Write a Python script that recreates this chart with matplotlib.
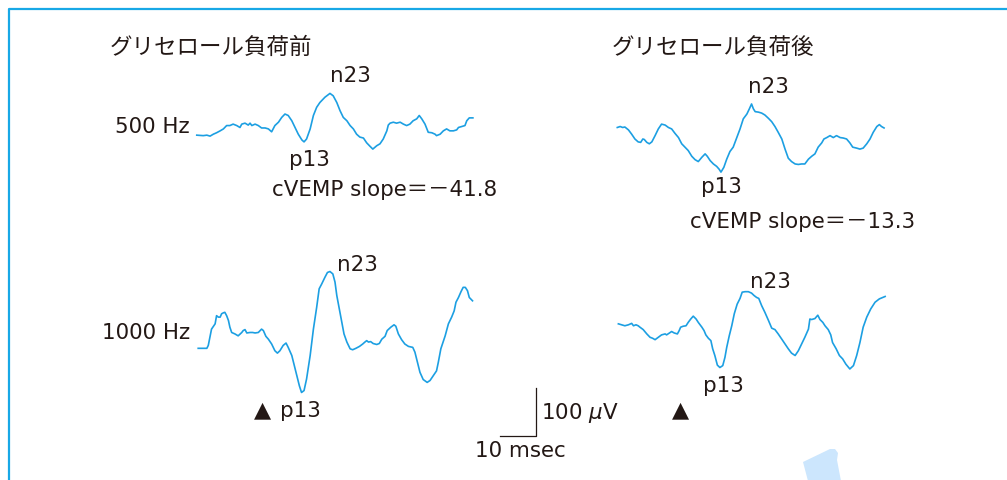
import matplotlib
matplotlib.use("Agg")
import matplotlib.pyplot as plt
from matplotlib.patches import Polygon

# ---- averaged cVEMP responses: time (ms, stimulus at 0) and amplitude (µV) ----
t_500_pre = [-18.4, -16.6, -15.6, -14.7, -13.8, -12.9, -11.9, -11.0, -10.1, -9.2, -8.3, -7.3,
             -6.4, -5.9, -5.0, -4.1, -3.6, -3.1, -2.2, -1.3, -0.4, 0.6, 1.5, 2.4, 3.3, 4.3,
             5.2, 6.1, 7.0, 8.0, 8.9, 9.8, 10.8, 11.4, 12.1, 13.1, 14.0, 14.9, 15.8, 17.2,
             18.6, 19.5, 20.5, 21.4, 22.3, 23.3, 24.2, 25.1, 26.0, 26.9, 27.9, 28.8, 29.7,
             30.5, 31.6, 32.5, 33.4, 34.4, 34.8, 35.3, 36.2, 37.1, 38.1, 39.0, 39.9, 40.8,
             41.7, 42.7, 43.4, 44.1, 45.0, 45.9, 46.9, 47.8, 48.2, 49.2, 50.1, 51.0, 51.9,
             52.9, 53.8, 54.3, 55.2, 56.1, 56.6, 57.3, 58.3]
a_500_pre = [-17, -18, -17, -19, -15, -12, -8, -4, 3, 3, 6, 3,
             -1, 6, 8, 4, 8, 3, 6, 3, -2, -2, -4, -10, 3, 10,
             20, 27, 24, 13, -1, -15, -27, -31, -25, -4, 24, 41, 51, 62,
             70, 65, 51, 34, 20, 13, 3, -4, -15, -21, -23, -33, -40,
             -46, -39, -35, -25, -8, 4, 8, 10, 8, 10, 6, 3, 6,
             13, 17, 24, 17, 6, -11, -12, -15, -18, -15, -8, -4, -8,
             -8, -6, -1, 1, 3, 13, 19, 19]

t_500_post = [-17.7, -16.9, -16.2, -15.6, -14.6, -13.7, -12.8, -11.9, -11.2, -10.6, -10.2, -9.5,
              -8.8, -8.1, -7.2, -6.3, -5.4, -4.4, -3.5, -2.6, -1.7, -0.7, 0.2, 1.1, 2.0, 3.0,
              3.9, 4.8, 5.8, 6.7, 7.3, 8.1, 9.0, 9.9, 10.6, 11.1, 11.9, 12.7, 13.6, 14.5,
              15.5, 16.4, 17.3, 18.3, 19.0, 19.6, 20.1, 20.6, 21.5, 22.4, 23.3, 24.3, 25.2,
              26.1, 27.0, 28.0, 28.9, 29.8, 30.7, 31.7, 32.6, 33.5, 34.4, 35.4, 36.3, 37.2,
              38.1, 39.1, 39.7, 40.5, 41.4, 42.3, 43.2, 44.2, 45.1, 46.0, 46.9, 47.7, 48.8,
              49.7, 50.6, 51.6, 52.5, 53.4, 54.4, 55.1, 55.7, 56.4]
a_500_post = [-1, 1, -1, 0, -6, -15, -25, -31, -32, -25, -26, -32,
              -35, -31, -18, -4, 6, 4, -1, -4, -13, -22, -35, -42, -49, -61,
              -68, -72, -63, -56, -61, -70, -77, -82, -88, -94, -84, -67, -51, -42,
              -22, -4, 17, 27, 38, 48, 38, 32, 31, 29, 25, 18, 11,
              1, -11, -25, -46, -65, -72, -77, -78, -77, -77, -67, -61, -56,
              -42, -33, -25, -22, -18, -22, -18, -22, -23, -25, -33, -42, -44,
              -46, -44, -35, -25, -11, 1, 5, 1, -2]

t_1000_pre = [-18.0, -16.6, -15.6, -15.2, -14.3, -13.3, -12.9, -12.4, -11.9, -11.5, -11.0, -10.6,
              -10.1, -9.6, -9.2, -8.7, -7.8, -6.9, -5.9, -5.5, -5.0, -4.5, -3.6, -2.9, -2.2,
              -1.3, -0.4, 0.1, 0.8, 1.5, 2.4, 3.3, 4.0, 4.7, 5.6, 6.4, 7.0, 8.0, 8.7, 9.4,
              10.1, 10.7, 11.4, 12.1, 13.1, 14.0, 14.9, 15.6, 16.3, 17.2, 17.9, 18.6, 19.4,
              20.0, 20.5, 21.2, 21.9, 22.5, 23.3, 24.2, 24.9, 25.8, 26.8, 27.7, 28.3, 28.8,
              29.3, 29.9, 30.6, 31.6, 32.3, 33.0, 33.9, 34.5, 35.5, 36.4, 36.9, 37.6, 38.5,
              39.4, 40.4, 41.6, 42.2, 42.9, 43.6, 44.5, 45.6, 46.4, 47.3, 48.2, 48.7, 49.4,
              50.6, 51.5, 52.4, 53.1, 53.6, 54.3, 55.0, 55.6, 56.2, 56.8, 57.3, 58.2]
a_1000_pre = [-34, -34, -34, -28, 6, 17, 34, 31, 31, 38, 40, 41,
              34, 24, 10, -1, -4, -8, -1, 3, 5, -2, -1, -1, -2,
              -1, 6, 3, -9, -15, -25, -39, -44, -39, -28, -23, -32, -49, -70, -91,
              -112, -126, -122, -98, -49, 6, 51, 90, 100, 114, 124, 126, 121,
              104, 76, 48, 20, -4, -21, -35, -37, -34, -30, -25, -21, -18,
              -21, -20, -24, -26, -24, -15, -9, 3, 10, 15, 12, -4, -16,
              -25, -30, -32, -42, -63, -84, -99, -105, -101, -91, -81, -63, -35,
              -8, 17, 31, 44, 62, 72, 84, 93, 93, 86, 72, 65]

t_1000_post = [-17.4, -16.5, -15.6, -14.6, -13.7, -13.2, -12.5, -11.9, -11.4, -10.5, -9.5, -8.6,
               -7.9, -7.2, -6.3, -5.4, -4.4, -4.0, -3.2, -2.6, -1.9, -1.0, -0.5, -0.1, 0.6,
               1.4, 2.0, 2.7, 3.4, 4.2, 4.8, 5.8, 6.4, 6.9, 7.6, 8.3, 8.8, 9.4, 10.1, 10.8,
               11.6, 12.2, 12.7, 13.4, 14.1, 14.8, 15.6, 16.4, 17.0, 17.8, 18.7, 19.6, 20.3,
               21.0, 21.6, 22.4, 23.3, 24.3, 25.2, 26.1, 27.0, 28.0, 28.9, 29.8, 30.7, 31.7,
               32.6, 33.5, 34.4, 35.4, 35.8, 36.3, 37.2, 38.0, 38.6, 39.4, 40.0, 40.9, 41.6,
               42.1, 43.1, 44.0, 44.9, 45.8, 46.9, 47.9, 48.8, 49.7, 50.6, 51.6, 52.7, 53.9,
               55.1, 56.7]
a_1000_post = [17, 15, 13, 15, 18, 13, 15, 13, 10, 5, -4, -11,
               -13, -16, -11, -6, -4, -6, -2, 1, -2, -4, 3, 10, 12,
               13, 20, 27, 33, 27, 20, 10, 3, -6, -13, -18, -35, -49, -69, -74,
               -70, -53, -32, -8, 13, 38, 58, 70, 83, 84, 84, 81, 76,
               72, 70, 55, 41, 24, 8, 5, -4, -15, -25, -35, -44, -49,
               -39, -25, -11, 6, 27, 26, 28, 35, 26, 20, 13, 5, -6,
               -22, -35, -49, -56, -67, -77, -70, -49, -22, 10, 31, 48, 62,
               69, 74]

# ---- text ----
titles = ["グリセロール負荷前", "グリセロール負荷後"]
freq_labels = ["500 Hz", "1000 Hz"]
slope_labels = ["cVEMP slope＝－41.8", "cVEMP slope＝－13.3"]
scale_ms, scale_uv = 10, 100

# ---- layout (pixels) ----
W, H = 1007, 481
PX_PER_MS = 3.6
PX_PER_UV = 0.48
col_stim_x = [263, 681]      # stimulus onset per column
row_base_y = [128, 333]      # zero line per row

TRACE = "#1c9fe2"
FRAME = "#18a8e6"
INK = "#231815"
FONTS = ["DejaVu Sans", "Noto Sans CJK JP"]

fig = plt.figure(figsize=(W / 100, H / 100), dpi=100)
bg = fig.add_axes([0, 0, 1, 1])
bg.set_xlim(0, W)
bg.set_ylim(H, 0)
bg.axis("off")


def trace_axes(sx, by):
    """Axes in ms / µV units placed so that t=0 sits at sx and 0 µV at by."""
    L, R, T, B = sx - 100, sx + 320, by - 110, by + 110
    ax = fig.add_axes([L / W, 1 - B / H, (R - L) / W, (B - T) / H])
    ax.set_xlim((L - sx) / PX_PER_MS, (R - sx) / PX_PER_MS)
    ax.set_ylim((by - B) / PX_PER_UV, (by - T) / PX_PER_UV)
    ax.axis("off")
    ax.patch.set_alpha(0)
    return ax


series = [
    (0, 0, t_500_pre, a_500_pre),
    (1, 0, t_500_post, a_500_post),
    (0, 1, t_1000_pre, a_1000_pre),
    (1, 1, t_1000_post, a_1000_post),
]
axes = {}
for col, row, t, a in series:
    ax = trace_axes(col_stim_x[col], row_base_y[row])
    ax.plot(t, a, color=TRACE, lw=1.2, solid_joinstyle="round", clip_on=False)
    axes[(col, row)] = ax

# scale bar, drawn in the lower-left trace's ms / µV units
sb = axes[(0, 1)]
sb_t0, sb_a0 = 65.8, -216.7
sb.plot([sb_t0, sb_t0 + scale_ms, sb_t0 + scale_ms],
        [sb_a0, sb_a0, sb_a0 + scale_uv], color=INK, lw=0.9, clip_on=False)

# frame
bg.plot([9, 9, W + 5], [H + 5, 9.8, 9.8], color=FRAME, lw=1.6, clip_on=False,
        solid_capstyle="butt")

# pale blue tab at the bottom edge
bg.add_patch(Polygon([(803, 463), (830, 450), (835, 450), (838, 454), (837, 461),
                      (841, 482), (808, 482)], closed=True, color="#cce6fd", lw=0))

fs = 15.4
kw = dict(color=INK, family=FONTS)
bg.text(110, 47, titles[0], fontsize=16.2, va="center", ha="left", **kw)
bg.text(612, 47, titles[1], fontsize=16.2, va="center", ha="left", **kw)

bg.text(190, 127, freq_labels[0], fontsize=fs, va="center", ha="right", **kw)
bg.text(190, 333, freq_labels[1], fontsize=fs, va="center", ha="right", **kw)

bg.text(350, 76, "n23", fontsize=fs, va="center", ha="center", **kw)
bg.text(309, 160, "p13", fontsize=fs, va="center", ha="center", **kw)
bg.text(272, 190, slope_labels[0], fontsize=fs, va="center", ha="left", **kw)

bg.text(768, 87, "n23", fontsize=fs, va="center", ha="center", **kw)
bg.text(721, 187, "p13", fontsize=fs, va="center", ha="center", **kw)
bg.text(690, 222, slope_labels[1], fontsize=fs, va="center", ha="left", **kw)

bg.text(357, 265, "n23", fontsize=fs, va="center", ha="center", **kw)
bg.text(263, 410, "▲", fontsize=16, va="center", ha="center", **kw)
bg.text(280, 411, "p13", fontsize=fs, va="center", ha="left", **kw)

bg.text(770, 282, "n23", fontsize=fs, va="center", ha="center", **kw)
bg.text(723, 386, "p13", fontsize=fs, va="center", ha="center", **kw)
bg.text(681, 410, "▲", fontsize=16, va="center", ha="center", **kw)

bg.text(541, 413, f"{scale_uv} $\\mu$V", fontsize=fs, va="center", ha="left", **kw)
bg.text(475, 451, f"{scale_ms} msec", fontsize=fs, va="center", ha="left", **kw)

fig.savefig("out.png", dpi=100)
